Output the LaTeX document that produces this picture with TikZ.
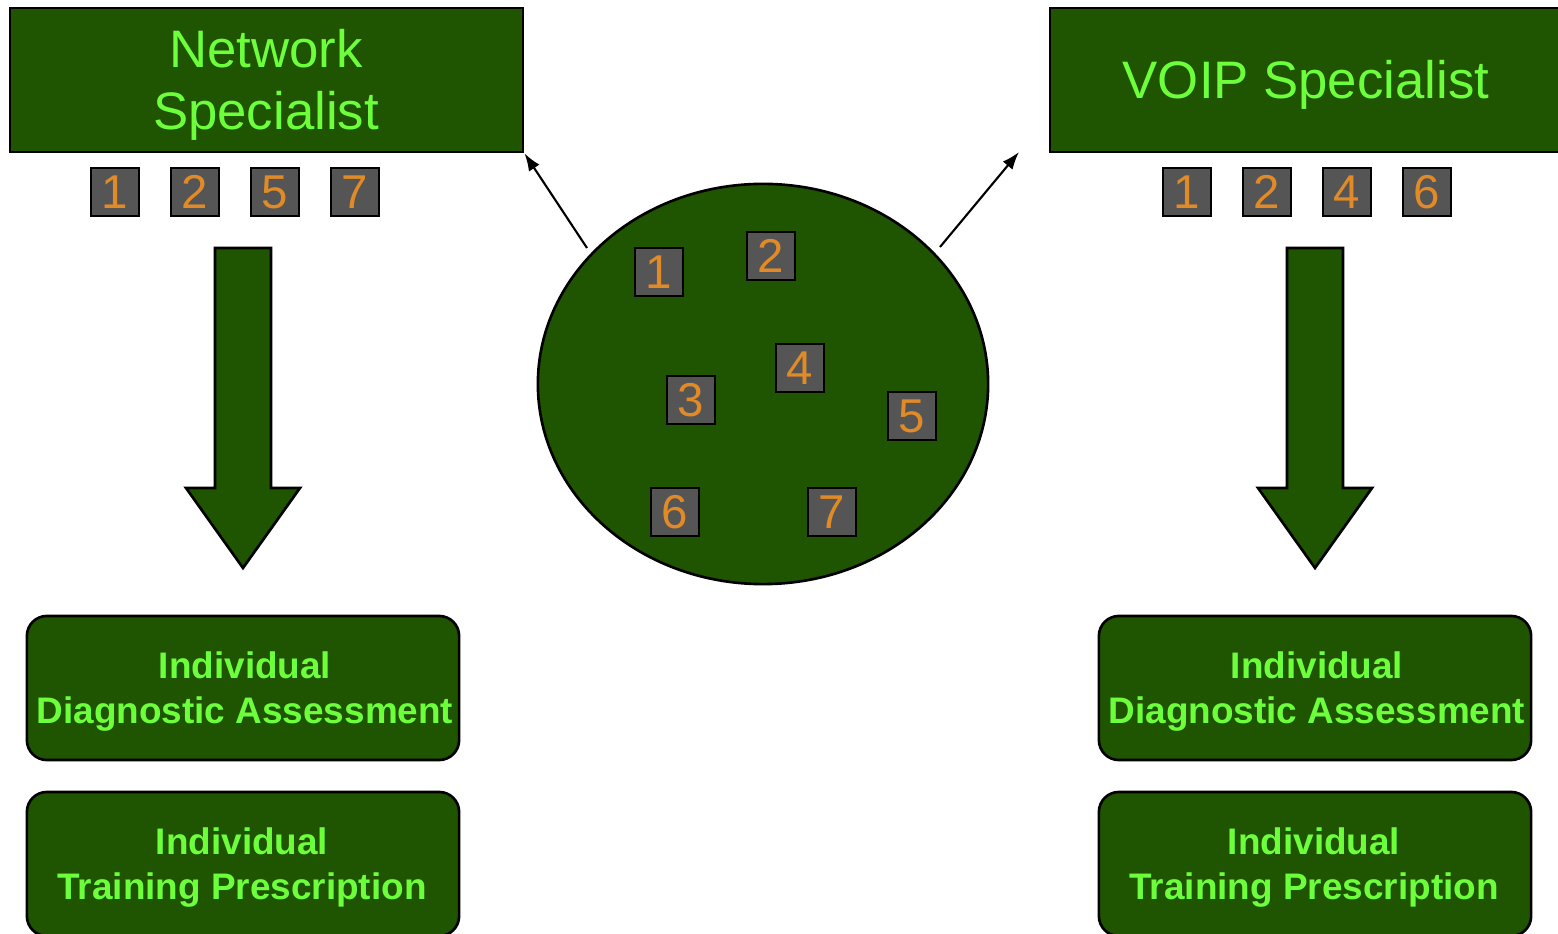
\documentclass[tikz,border=0pt]{standalone}
\usepackage{fontspec}
\setmainfont{Liberation Sans}
\usetikzlibrary{arrows.meta,shapes.geometric}
\definecolor{dg}{RGB}{31,84,0}
\definecolor{lg}{RGB}{110,255,60}
\definecolor{gr}{RGB}{85,85,85}
\definecolor{org}{RGB}{224,138,40}
\tikzset{
  titlebox/.style={draw=black, line width=0.75pt, fill=dg, inner sep=0pt, minimum height=1.44cm},
  titletext/.style={text=lg, align=center, inner sep=0pt, font=\fontsize{15}{17.6}\selectfont},
  numbox/.style={draw=black, line width=0.6pt, fill=gr, text=org, inner sep=0pt,
    minimum width=0.48cm, minimum height=0.48cm, font=\fontsize{13.5}{14}\selectfont},
  resultbox/.style={draw=black, line width=0.75pt, fill=dg, inner sep=0pt,
    rounded corners=0.2cm, minimum width=4.32cm, minimum height=1.44cm},
  resulttext/.style={text=lg, align=center, inner sep=0pt, font=\fontsize{10.5}{12.8}\selectfont\bfseries},
  blockarrow/.style={draw=black, line width=0.75pt, fill=dg, line join=miter},
  link/.style={draw=black, line width=0.6pt, -{Latex[length=5pt,width=3.6pt]}}
}
\begin{document}
\begin{tikzpicture}[x=0.01cm,y=-0.01cm]
\useasboundingbox (0,0) rectangle (1558,934);
% title boxes
\node[titlebox, minimum width=5.13cm] (ns) at (266.5,80) {};
\node[titletext] (nst) at (266,85) {Network\\Specialist};
\node[titlebox, minimum width=5.15cm] (vs) at (1307.5,80) {};
\node[titletext] (vst) at (1306,85) {VOIP Specialist};
% number rows
\node[numbox] (l1) at (115,192) {1};
\node[numbox] (l2) at (195,192) {2};
\node[numbox] (l5) at (275,192) {5};
\node[numbox] (l7) at (355,192) {7};
\node[numbox] (r1) at (1187,192) {1};
\node[numbox] (r2) at (1267,192) {2};
\node[numbox] (r4) at (1347,192) {4};
\node[numbox] (r6) at (1427,192) {6};
% pool ellipse
\node[ellipse, draw=black, line width=0.75pt, fill=dg, minimum width=4.5cm, minimum height=4cm, inner sep=0pt] (pool) at (763,384) {};
\node[numbox] (p1) at (659,272) {1};
\node[numbox] (p2) at (771,256) {2};
\node[numbox] (p3) at (691,400) {3};
\node[numbox] (p4) at (800,368) {4};
\node[numbox] (p5) at (912,416) {5};
\node[numbox] (p6) at (675,512) {6};
\node[numbox] (p7) at (832,512) {7};
% connectors
\coordinate (la) at (587,248);
\coordinate (ra) at (940,247);
\coordinate (rt) at (1019,152);
\draw[link] (la) -- (ns.south east);
\draw[link] (ra) -- (rt);
% block arrows
\draw[blockarrow] (215,248) -- (271,248) -- (271,488) -- (300,488) -- (243,568) -- (186,488) -- (215,488) -- cycle;
\draw[blockarrow] (1287,248) -- (1343,248) -- (1343,488) -- (1372,488) -- (1315,568) -- (1258,488) -- (1287,488) -- cycle;
% result boxes
\node[resultbox] (lda) at (243,688) {};
\node[resulttext] (ldat) at (245,692) {Individual\\Diagnostic Assessment};
\node[resultbox] (ltp) at (243,864) {};
\node[resulttext] (ltpt) at (242,868) {Individual\\Training Prescription};
\node[resultbox] (rda) at (1315,688) {};
\node[resulttext] (rdat) at (1317,692) {Individual\\Diagnostic Assessment};
\node[resultbox] (rtp) at (1315,864) {};
\node[resulttext] (rtpt) at (1314,868) {Individual\\Training Prescription};
\end{tikzpicture}
\end{document}
